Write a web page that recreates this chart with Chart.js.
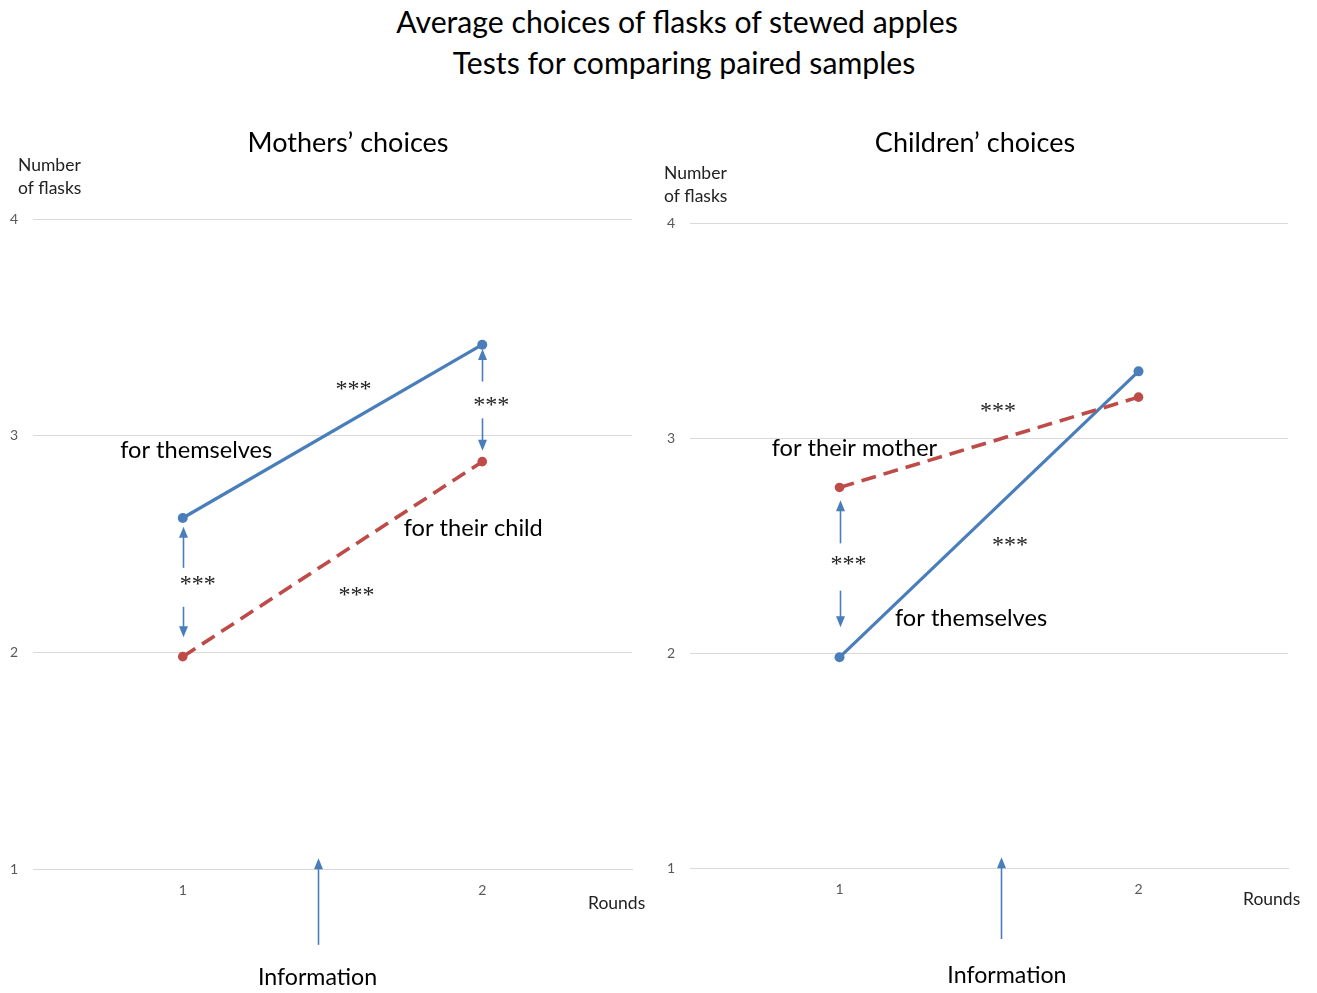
<!DOCTYPE html>
<html>
<head>
<meta charset="utf-8">
<script src="https://cdn.jsdelivr.net/npm/chart.js@4.4.1/dist/chart.umd.min.js"></script>
<style>
  html,body{margin:0;padding:0;background:#fff;}
  body{width:1317px;height:993px;position:relative;overflow:hidden;font-family:Lato, "Liberation Sans", sans-serif;}
  #title{position:absolute;left:0;top:1px;width:1354px;text-align:center;font-size:30.2px;line-height:41px;color:#000;}
  #t2{position:relative;left:7px;}
  #c1{position:absolute;left:0;top:0;}
  #c2{position:absolute;left:658px;top:0;}
</style>
</head>
<body>
<div id="title">Average choices of flasks of stewed apples<br><span id="t2">Tests for comparing paired samples</span></div>
<canvas id="c1" width="658" height="993"></canvas>
<canvas id="c2" width="659" height="993"></canvas>
<script>
// ---- data ----
const rounds = ['1', '2'];
const yTicks = [1, 2, 3, 4];
const mothersForThemselves = [2.62, 3.42];
const mothersForChild = [1.98, 2.88];
const childrenForThemselves = [1.98, 3.31];
const childrenForMother = [2.77, 3.19];

// annotation texts: [text, xIndex, yValue, fontSize, family]
const leftTexts = [
  ['for themselves', 0.045, 2.93, 23.6, 'Lato'],
  ['for their child', 0.97, 2.57, 23.6, 'Lato'],
  ['***', 0.57, 3.21, 24, 'Liberation Serif'],
  ['***', 1.03, 3.14, 24, 'Liberation Serif'],
  ['***', 0.05, 2.31, 24, 'Liberation Serif'],
  ['***', 0.58, 2.26, 24, 'Liberation Serif'],
];
// arrows: [xIndex, fromValue, toValue(tip)]
const leftArrows = [
  [0, 2.39, 2.58], [0, 2.21, 2.07],
  [1, 3.25, 3.40], [1, 3.08, 2.93],
  [0.45, 0.65, 1.05],
];
const rightTexts = [
  ['for their mother', 0.05, 2.95, 23.6, 'Lato'],
  ['for themselves', 0.44, 2.16, 23.6, 'Lato'],
  ['***', 0.53, 3.12, 24, 'Liberation Serif'],
  ['***', 0.57, 2.50, 24, 'Liberation Serif'],
  ['***', 0.03, 2.41, 24, 'Liberation Serif'],
];
const rightArrows = [
  [0, 2.51, 2.71], [0, 2.29, 2.12],
  [0.54, 0.67, 1.05],
];

const BLUE = '#4a7ebb';
const RED = '#be4b48';

function drawArrow(ctx, x, y1, y2) {
  const dir = y2 < y1 ? -1 : 1;
  ctx.save();
  ctx.strokeStyle = BLUE; ctx.fillStyle = BLUE; ctx.lineWidth = 1.6;
  ctx.beginPath(); ctx.moveTo(x, y1); ctx.lineTo(x, y2 - dir * 9); ctx.stroke();
  ctx.beginPath();
  ctx.moveTo(x, y2); ctx.lineTo(x - 4.5, y2 - dir * 11); ctx.lineTo(x + 4.5, y2 - dir * 11); ctx.closePath(); ctx.fill();
  ctx.restore();
}

function makeDecor(cfg) {
  return {
    id: 'decor',
    afterDraw(chart) {
      const ctx = chart.ctx, xs = chart.scales.x, ys = chart.scales.y;
      ctx.save();
      ctx.fillStyle = '#000';
      ctx.textAlign = 'center'; ctx.textBaseline = 'middle';
      ctx.font = '27px Lato';
      ctx.fillText(cfg.title, cfg.titleX, cfg.titleY);
      ctx.textAlign = 'left';
      ctx.font = '17.5px Lato';
      ctx.fillStyle = '#222';
      ctx.fillText('Number', cfg.nfX, cfg.nfY);
      ctx.fillText('of flasks', cfg.nfX, cfg.nfY + 23);
      ctx.fillText('Rounds', cfg.rX, cfg.rY);
      ctx.fillStyle = '#000';
      ctx.textAlign = 'center';
      ctx.font = '23.2px Lato';
      ctx.fillText('Information', xs.getPixelForValue(cfg.infoX), ys.getPixelForValue(0.5));
      cfg.texts.forEach(t => {
        ctx.font = t[3] + 'px "' + t[4] + '"';
        ctx.fillStyle = t[0] === '***' ? '#222' : '#000';
        ctx.fillText(t[0], xs.getPixelForValue(t[1]), ys.getPixelForValue(t[2]));
      });
      cfg.arrows.forEach(a => {
        drawArrow(ctx, Math.round(xs.getPixelForValue(a[0])) + 0.5, ys.getPixelForValue(a[1]), ys.getPixelForValue(a[2]));
      });
      ctx.restore();
    }
  };
}

function makeChart(id, s1, s2, pad, yW, xH, decor) {
  return new Chart(document.getElementById(id), {
    type: 'line',
    data: {
      labels: rounds,
      datasets: [
        { data: s1, borderColor: BLUE, backgroundColor: BLUE, borderWidth: 3.2, pointRadius: 5, pointBorderWidth: 0, tension: 0, order: 2 },
        { data: s2, borderColor: RED, backgroundColor: RED, borderWidth: 3.6, borderDash: [15, 8], pointRadius: 4.8, pointBorderWidth: 0, tension: 0, order: 1 },
      ]
    },
    options: {
      responsive: false, animation: false, devicePixelRatio: 1,
      layout: { padding: pad },
      plugins: { legend: { display: false }, tooltip: { enabled: false }, title: { display: false } },
      scales: {
        x: {
          type: 'category', offset: true,
          grid: { display: false, drawTicks: false },
          border: { display: true, color: '#d9d9d9', width: 1 },
          ticks: { padding: 13, color: '#595959', font: { size: 14, family: 'Lato' } },
          afterFit(s) { s.height = xH; }
        },
        y: {
          min: 1, max: 4,
          afterBuildTicks(s) { s.ticks = yTicks.map(v => ({ value: v })); },
          ticks: { padding: 15, color: '#595959', font: { size: 14, family: 'Lato' } },
          grid: { color: '#d9d9d9', drawTicks: false, lineWidth: 1 },
          border: { display: false },
          afterFit(s) { s.width = yW; }
        }
      }
    },
    plugins: [decor]
  });
}

makeChart('c1', mothersForThemselves, mothersForChild,
  { left: 0, right: 26, top: 219, bottom: 0 }, 33, 124,
  makeDecor({ title: 'Mothers\u2019 choices', titleX: 348, titleY: 143, nfX: 18, nfY: 165, rX: 588, rY: 903,
    infoX: 0.45, texts: leftTexts, arrows: leftArrows }));

makeChart('c2', childrenForThemselves, childrenForMother,
  { left: 0, right: 29, top: 223, bottom: 0 }, 32, 125,
  makeDecor({ title: 'Children\u2019 choices', titleX: 317, titleY: 143, nfX: 6, nfY: 173, rX: 585, rY: 899,
    infoX: 0.56, texts: rightTexts, arrows: rightArrows }));
</script>
</body>
</html>
